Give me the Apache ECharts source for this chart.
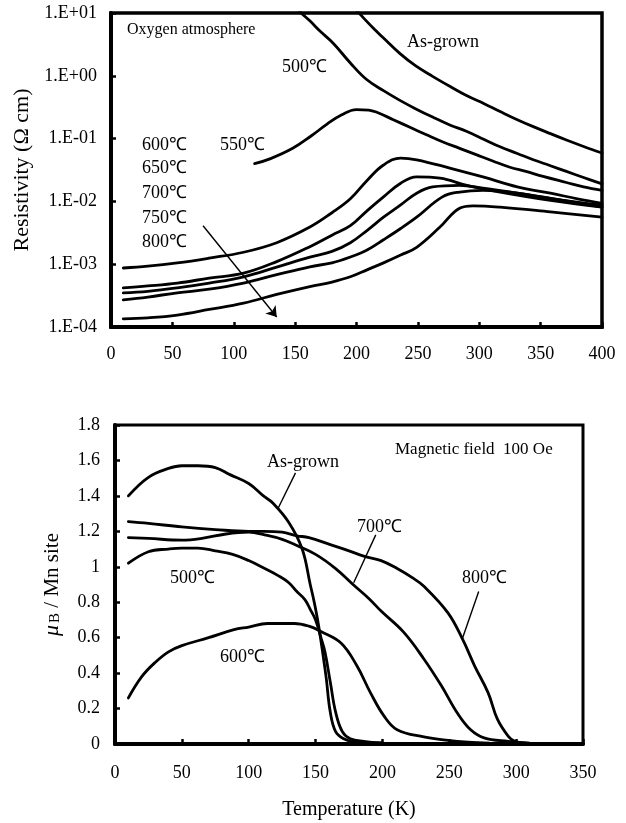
<!DOCTYPE html>
<html>
<head>
<meta charset="utf-8">
<script src="https://cdn.jsdelivr.net/npm/echarts@6/dist/echarts.min.js"></script>
<style>
  html, body { margin: 0; padding: 0; background: #fff; }
  #chart { width: 626px; height: 823px; }
</style>
</head>
<body>
<div id="chart"></div>
<script>
// Resistivity (Ω cm) vs temperature (K), per annealing condition: [T, rho]
const rhoAsGrown = [[195,14],[203,9.5],[215,5.4],[222,4.0],[235,2.3],[248,1.45],[262,0.98],[276,0.68],[290,0.48],[304,0.36],[317,0.27],[331,0.2],[344,0.155],[358,0.12],[371,0.095],[385,0.075],[400,0.059]];
const rho500 = [[150,13],[155,10],[162,7.5],[170,5.2],[181,3.3],[195,1.6],[208,0.88],[222,0.58],[235,0.41],[248,0.3],[262,0.22],[276,0.165],[290,0.13],[304,0.097],[317,0.074],[331,0.058],[344,0.046],[358,0.037],[371,0.03],[385,0.024],[400,0.019]];
const rho550 = [[117,0.040],[130,0.048],[148,0.07],[163,0.11],[176,0.17],[188,0.24],[200,0.29],[210,0.285],[217,0.26],[230,0.2],[244,0.15],[257,0.115],[270,0.089],[284,0.07],[298,0.055],[311,0.044],[325,0.035],[338,0.03],[352,0.025],[371,0.02],[385,0.017],[400,0.015]];
const rho600 = [[10,0.00087],[30,0.00093],[54,0.00105],[80,0.00125],[108,0.00155],[135,0.0022],[162,0.0039],[180,0.0066],[195,0.011],[209,0.022],[222,0.038],[236,0.049],[249,0.046],[276,0.034],[303,0.0245],[331,0.017],[358,0.0135],[380,0.011],[400,0.0093]];
const rho650 = [[10,0.00042],[30,0.00045],[54,0.0005],[80,0.0006],[108,0.00072],[135,0.0011],[162,0.0019],[180,0.0029],[195,0.0041],[209,0.0072],[222,0.0118],[236,0.0195],[249,0.0245],[268,0.0234],[290,0.018],[317,0.0141],[358,0.0104],[400,0.0081]];
const rho700 = [[10,0.00035],[30,0.00037],[54,0.00042],[80,0.0005],[108,0.00063],[135,0.0009],[162,0.0013],[180,0.0016],[195,0.0022],[209,0.0035],[222,0.0056],[236,0.0088],[249,0.0135],[262,0.017],[284,0.018],[303,0.0162],[331,0.0135],[360,0.011],[400,0.0087]];
const rho750 = [[10,0.00027],[30,0.0003],[54,0.00035],[80,0.0004],[108,0.0005],[135,0.00068],[162,0.00091],[180,0.00105],[195,0.0013],[209,0.0017],[222,0.00245],[236,0.0037],[249,0.0056],[270,0.0118],[284,0.0141],[303,0.015],[331,0.0135],[400,0.0081]];
const rho800 = [[10,0.000135],[30,0.00014],[54,0.000155],[80,0.00019],[108,0.00024],[135,0.00033],[162,0.00044],[180,0.00052],[195,0.00063],[209,0.00082],[222,0.00105],[236,0.0014],[249,0.00186],[268,0.0039],[284,0.0078],[295,0.0085],[317,0.0081],[358,0.0068],[400,0.0056]];

// Magnetic moment (μB / Mn site) vs temperature (K): [T, m]
const magAsGrown = [[10,1.40],[25,1.505],[40,1.555],[50,1.57],[62,1.57],[75,1.56],[86,1.52],[100,1.47],[111,1.40],[118,1.36],[130,1.25],[140,1.10],[146,0.9],[149,0.8],[152,0.68],[156,0.48],[158,0.37],[161,0.18],[165,0.07],[171,0.03],[180,0.01],[200,0.005]];
const mag500 = [[10,1.02],[25,1.085],[40,1.10],[50,1.105],[62,1.105],[75,1.09],[88,1.07],[100,1.035],[112,0.99],[122,0.95],[130,0.91],[136,0.86],[142,0.815],[146,0.76],[150,0.70],[154,0.6],[157,0.52],[161,0.35],[165,0.18],[170,0.07],[176,0.03],[186,0.015],[200,0.006]];
const mag600 = [[10,0.26],[20,0.38],[30,0.46],[40,0.52],[50,0.555],[70,0.60],[89,0.645],[100,0.66],[114,0.68],[134,0.68],[145,0.665],[154,0.635],[169,0.57],[181,0.44],[191,0.29],[201,0.16],[211,0.08],[231,0.04],[249,0.02],[264,0.01],[280,0.005]];
const mag700 = [[10,1.165],[25,1.16],[50,1.15],[65,1.16],[83,1.185],[100,1.195],[112,1.18],[125,1.155],[136,1.12],[150,1.07],[165,0.99],[178,0.90],[190,0.82],[199,0.75],[216,0.63],[231,0.48],[244,0.33],[256,0.175],[266,0.08],[276,0.035],[294,0.015],[310,0.005]];
const mag800 = [[10,1.255],[25,1.245],[50,1.225],[75,1.21],[100,1.20],[111,1.20],[125,1.195],[136,1.175],[145,1.165],[161,1.125],[175,1.09],[186,1.06],[199,1.035],[211,0.99],[222,0.94],[231,0.89],[249,0.74],[260,0.59],[269,0.44],[279,0.29],[286,0.14],[294,0.045],[299,0.015],[310,0.003]];

// Tick labels of the logarithmic resistivity axis, from 1e-4 up to 1e+1
const resistivityTicks = ['1.E-04','1.E-03','1.E-02','1.E-01','1.E+00','1.E+01'];

// Arrow through the 600–800 ℃ group and label leader lines, in data units
const trendArrow = [[75,0.0041],[135,0.000144]];
const leaderAsGrown = [[135,1.53],[122,1.33]];
const leader700 = [[195,1.18],[178.5,0.91]];
const leader800 = [[272,0.86],[260,0.60]];

const FONT = "'Liberation Serif', 'Times New Roman', serif";
const INK = '#000';

function curve(data, xi, yi) {
  return {
    type: 'line', data: data, xAxisIndex: xi, yAxisIndex: yi,
    showSymbol: false, symbol: 'none', smooth: 0.4,
    clip: true, silent: true,
    lineStyle: { color: INK, width: 2.8, join: 'round', cap: 'round' }
  };
}
function leader(data) {
  return {
    type: 'line', data: data, xAxisIndex: 1, yAxisIndex: 1,
    symbol: 'none', silent: true, lineStyle: { color: INK, width: 1.4 }
  };
}
function note(text, x, y, size) {
  return {
    type: 'text', x: x, y: y, silent: true,
    style: { text: text, fill: INK, fontFamily: FONT, fontSize: size || 18, align: 'left', verticalAlign: 'middle' }
  };
}

const axisBase = {
  axisLine: { onZero: false, lineStyle: { color: INK, width: 4 } },
  axisTick: { inside: true, length: 5, lineStyle: { color: INK, width: 2.5 } },
  splitLine: { show: false },
  minorTick: { show: false }
};

const chart = echarts.init(document.getElementById('chart'), null, { renderer: 'canvas' });
chart.setOption({
  animation: false,
  backgroundColor: '#fff',
  grid: [
    { left: 111, top: 13, width: 491, height: 314, show: true, borderColor: INK, borderWidth: 3.5 },
    { left: 115, top: 425, width: 468, height: 319, show: true, borderColor: INK, borderWidth: 3 }
  ],
  xAxis: [
    Object.assign({}, axisBase, {
      gridIndex: 0, type: 'value', min: 0, max: 400, interval: 50,
      axisLabel: { color: INK, fontFamily: FONT, fontSize: 18, margin: 18 }
    }),
    Object.assign({}, axisBase, {
      gridIndex: 1, type: 'value', min: 0, max: 350, interval: 50,
      axisLabel: { color: INK, fontFamily: FONT, fontSize: 18, margin: 20 },
      name: 'Temperature (K)', nameLocation: 'middle', nameGap: 56,
      nameTextStyle: { color: INK, fontFamily: FONT, fontSize: 20 }
    })
  ],
  yAxis: [
    Object.assign({}, axisBase, {
      gridIndex: 0, type: 'log', logBase: 10, min: 0.0001, max: 10,
      axisLabel: {
        color: INK, fontFamily: FONT, fontSize: 18, margin: 14,
        formatter: function (v) { return resistivityTicks[Math.round(Math.log10(v)) + 4]; }
      },
      name: 'Resistivity (Ω cm)', nameLocation: 'middle', nameGap: 75, nameRotate: 90,
      nameTextStyle: { color: INK, fontFamily: FONT, fontSize: 22 }
    }),
    Object.assign({}, axisBase, {
      gridIndex: 1, type: 'value', min: 0, max: 1.8, interval: 0.2,
      axisLabel: { color: INK, fontFamily: FONT, fontSize: 18, margin: 15 },
      name: '{mu|μ}{sub|B}{n| / Mn site}', nameLocation: 'middle', nameGap: 52, nameRotate: 90,
      nameTextStyle: {
        color: INK, fontFamily: FONT, fontSize: 21,
        rich: {
          mu: { fontFamily: FONT, fontSize: 22, fontStyle: 'italic', color: INK },
          sub: { fontFamily: FONT, fontSize: 15, color: INK, verticalAlign: 'bottom', padding: [6, 0, 0, 2] },
          n: { fontFamily: FONT, fontSize: 21, color: INK }
        }
      }
    })
  ],
  series: [
    curve(rhoAsGrown, 0, 0), curve(rho500, 0, 0), curve(rho550, 0, 0),
    curve(rho600, 0, 0), curve(rho650, 0, 0), curve(rho700, 0, 0),
    curve(rho750, 0, 0), curve(rho800, 0, 0),
    {
      type: 'lines', coordinateSystem: 'cartesian2d', xAxisIndex: 0, yAxisIndex: 0,
      silent: true, symbol: ['none', 'arrow'], symbolSize: 10,
      lineStyle: { color: INK, width: 1.4, opacity: 1 },
      data: [{ coords: trendArrow }]
    },
    curve(magAsGrown, 1, 1), curve(mag500, 1, 1), curve(mag600, 1, 1),
    curve(mag700, 1, 1), curve(mag800, 1, 1),
    leader(leaderAsGrown), leader(leader700), leader(leader800)
  ],
  graphic: [
    note('Oxygen atmosphere', 127, 30, 16),
    note('500℃', 282, 67),
    note('As-grown', 407, 42),
    note('550℃', 220, 145),
    note('600℃', 142, 145),
    note('650℃', 142, 168),
    note('700℃', 142, 193),
    note('750℃', 142, 218),
    note('800℃', 142, 242),
    note('As-grown', 267, 462),
    note('Magnetic field  100 Oe', 395, 450, 17),
    note('700℃', 357, 527),
    note('800℃', 462, 578),
    note('500℃', 170, 578),
    note('600℃', 220, 657)
  ]
});
</script>
</body>
</html>
